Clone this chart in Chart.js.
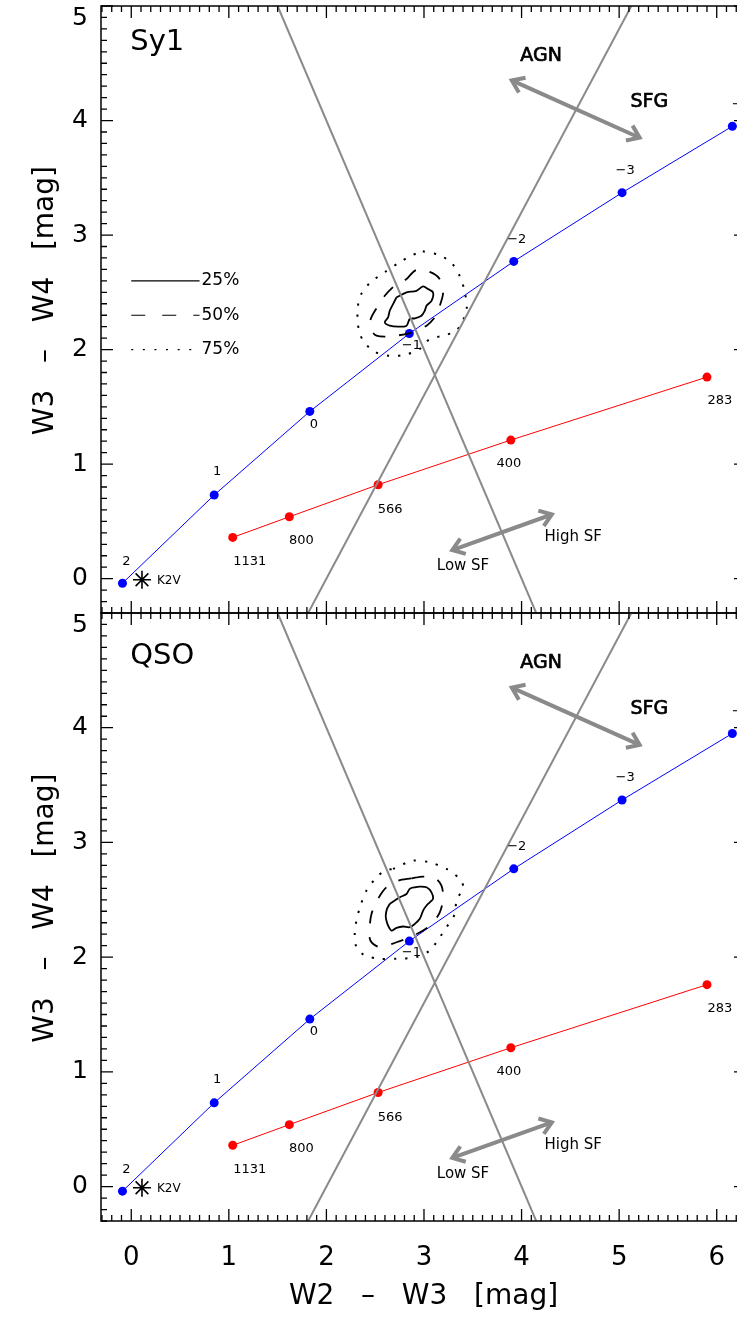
<!DOCTYPE html>
<html>
<head>
<meta charset="utf-8">
<script src="https://cdn.jsdelivr.net/npm/chart.js@4.4.0/dist/chart.umd.min.js"></script>
<style>
  html, body { margin: 0; padding: 0; background: #fff; }
  #wrap { position: relative; width: 737px; height: 1326px; overflow: hidden; background: #fff; }
  #wrap canvas { position: absolute; left: 0; }
</style>
</head>
<body>
<div id="wrap">
  <canvas id="sy1" width="760" height="640" style="top:0px"></canvas>
  <canvas id="qso" width="760" height="726" style="top:600px"></canvas>
</div>
<script>
// ---------- data ----------
// power-law track, labelled by spectral index alpha
const alphaLabels = ['2', '1', '0', '\u22121', '\u22122', '\u22123', '\u22124'];
const powerLawX = [-0.09, 0.85, 1.83, 2.85, 3.92, 5.03, 6.16];
const powerLawY = [-0.04, 0.73, 1.46, 2.14, 2.77, 3.37, 3.95];

// blackbody track, labelled by temperature [K]
const tempLabels = ['1131', '800', '566', '400', '283'];
const blackbodyX = [1.04, 1.62, 2.53, 3.89, 5.90];
const blackbodyY = [0.36, 0.54, 0.82, 1.21, 1.76];

// reference star
const starLabel = 'K2V';
const starX = [0.11];
const starY = [-0.01];

// AGN / SFG dividing lines (end points)
const lineAX = [1.50, 4.15];
const lineAY = [5.0, -0.3];
const lineBX = [1.8125, 5.125];
const lineBY = [-0.3, 5.0];

// double arrows (end points)
const agnArrowX = [3.90, 5.21];
const agnArrowY = [4.35, 3.85];
const sfArrowX = [3.29, 4.31];
const sfArrowY = [0.25, 0.56];

// axis ticks
const xTicks = [0, 1, 2, 3, 4, 5, 6];
const yTicks = [0, 1, 2, 3, 4, 5];

// contour levels
const contourLevels = ['25%', '50%', '75%'];

// Sy1 density contours
const sy1C25X = [2.718, 2.821, 2.923, 2.991, 3.042, 3.093, 3.077, 3.026, 3.008, 2.974, 2.906, 2.854, 2.821, 2.734, 2.649, 2.598, 2.632, 2.649, 2.683];
const sy1C25Y = [2.456, 2.499, 2.513, 2.551, 2.528, 2.499, 2.426, 2.383, 2.339, 2.296, 2.273, 2.267, 2.209, 2.200, 2.209, 2.238, 2.282, 2.339, 2.397];
const sy1C50X = [2.821, 2.923, 3.059, 3.162, 3.196, 3.162, 3.111, 3.026, 2.888, 2.667, 2.513, 2.451, 2.454, 2.519, 2.598, 2.718];
const sy1C50Y = [2.615, 2.696, 2.678, 2.615, 2.499, 2.383, 2.282, 2.209, 2.151, 2.117, 2.122, 2.180, 2.267, 2.369, 2.470, 2.571];
const sy1C75X = [2.988, 3.162, 3.285, 3.367, 3.418, 3.438, 3.397, 3.326, 3.193, 3.060, 2.957, 2.803, 2.649, 2.495, 2.403, 2.342, 2.321, 2.321, 2.362, 2.454, 2.598, 2.752, 2.875];
const sy1C75Y = [2.858, 2.823, 2.753, 2.641, 2.502, 2.354, 2.250, 2.163, 2.120, 2.093, 2.006, 1.954, 1.945, 1.980, 2.050, 2.137, 2.250, 2.372, 2.493, 2.589, 2.676, 2.763, 2.823];

// QSO density contours
const qsoC25X = [2.649, 2.752, 2.821, 2.854, 2.906, 2.957, 3.026, 3.077, 3.093, 3.059, 3.026, 2.991, 2.957, 2.906, 2.854, 2.786, 2.718, 2.667, 2.632, 2.615, 2.608, 2.621];
const qsoC25Y = [2.464, 2.522, 2.551, 2.595, 2.609, 2.615, 2.609, 2.565, 2.508, 2.478, 2.450, 2.406, 2.334, 2.290, 2.261, 2.267, 2.256, 2.232, 2.276, 2.319, 2.363, 2.421];
const qsoC50X = [2.872, 2.991, 3.111, 3.179, 3.196, 3.162, 3.093, 2.991, 2.854, 2.718, 2.547, 2.451, 2.444, 2.462, 2.529, 2.615, 2.734];
const qsoC50Y = [2.687, 2.702, 2.690, 2.623, 2.508, 2.391, 2.304, 2.232, 2.174, 2.130, 2.087, 2.145, 2.261, 2.377, 2.508, 2.609, 2.667];
const qsoC75X = [2.683, 2.888, 3.059, 3.231, 3.367, 3.401, 3.333, 3.316, 3.231, 3.162, 3.059, 2.923, 2.718, 2.547, 2.393, 2.308, 2.290, 2.308, 2.344, 2.410, 2.513, 2.598];
const qsoC75Y = [2.769, 2.841, 2.826, 2.769, 2.682, 2.609, 2.493, 2.377, 2.261, 2.174, 2.058, 2.000, 1.986, 1.986, 2.015, 2.087, 2.203, 2.319, 2.435, 2.580, 2.696, 2.754];

// ---------- style ----------
const FONT = '"DejaVu Sans", "Liberation Sans", sans-serif';
const GRAY = '#8a8a8a';
const X_MIN = -0.31, X_MAX = 6.30;
const Y_MIN = -0.3, Y_MAX = 5.0;
const DASH = [13, 14];
const DOT = [2.2, 9];

// label placement next to the track points (pixels)
const alphaLabelOffsets = [[4, -22], [3, -23], [4, 13], [2, 12], [3, -22], [3, -22], [9, -22]];
const tempLabelOffsets = [[17, 24], [12, 24], [12, 25], [-2, 24], [13, 24]];

const pts = (xs, ys) => xs.map((v, i) => ({ x: v, y: ys[i] }));
const closed = (xs, ys) => { const p = pts(xs, ys); p.push(p[0]); return p; };

function makeDatasets(c25x, c25y, c50x, c50y, c75x, c75y) {
  const gray = (d) => ({ data: d, showLine: true, borderColor: GRAY, borderWidth: 2, pointRadius: 0, clip: 0 });
  const contour = (d, dash, w) => ({ data: d, showLine: true, borderColor: '#000', borderWidth: w,
    borderDash: dash, pointRadius: 0, tension: 0.3, clip: 0 });
  return [
    gray(pts(lineAX, lineAY)),
    gray(pts(lineBX, lineBY)),
    contour(closed(c75x, c75y), DOT, 2),
    contour(closed(c50x, c50y), DASH, 1.8),
    contour(closed(c25x, c25y), [], 1.8),
    { data: pts(blackbodyX, blackbodyY), showLine: true, borderColor: '#ff0000', borderWidth: 1,
      pointRadius: 4.5, pointBackgroundColor: '#ff0000', pointBorderColor: '#ff0000', pointBorderWidth: 0 },
    { data: pts(powerLawX, powerLawY), showLine: true, borderColor: '#0000ff', borderWidth: 1,
      pointRadius: 4.5, pointBackgroundColor: '#0000ff', pointBorderColor: '#0000ff', pointBorderWidth: 0, clip: 10 },
    { data: pts(starX, starY), showLine: false, pointStyle: 'star', pointRadius: 9,
      pointBorderColor: '#000', pointBorderWidth: 1.6, pointBackgroundColor: '#000' }
  ];
}

function drawArrow(ctx, p1, p2) {
  const ang = Math.atan2(p2[1] - p1[1], p2[0] - p1[0]);
  const L = 14, spread = 0.62;
  ctx.save();
  ctx.strokeStyle = GRAY;
  ctx.lineWidth = 4;
  ctx.lineCap = 'butt';
  ctx.lineJoin = 'miter';
  ctx.beginPath();
  ctx.moveTo(p1[0], p1[1]);
  ctx.lineTo(p2[0], p2[1]);
  ctx.stroke();
  const head = (tip, dir) => {
    ctx.beginPath();
    ctx.moveTo(tip[0] - L * Math.cos(dir - spread), tip[1] - L * Math.sin(dir - spread));
    ctx.lineTo(tip[0], tip[1]);
    ctx.lineTo(tip[0] - L * Math.cos(dir + spread), tip[1] - L * Math.sin(dir + spread));
    ctx.stroke();
  };
  head(p2, ang);
  head(p1, ang + Math.PI);
  ctx.restore();
}

// heavy: extra outline width, for the slightly bolder region labels
function text(ctx, str, x, y, size, align, heavy) {
  ctx.font = `normal ${size}px ${FONT}`;
  ctx.fillStyle = '#000';
  ctx.textAlign = align || 'center';
  ctx.textBaseline = 'middle';
  ctx.fillText(str, x, y);
  if (heavy) {
    ctx.save();
    ctx.strokeStyle = '#000';
    ctx.lineWidth = heavy;
    ctx.strokeText(str, x, y);
    ctx.restore();
  }
}

const panelDecor = {
  id: 'panelDecor',
  afterDatasetsDraw(chart, args, opts) {
    const { ctx } = chart;
    const xs = chart.scales.x, ys = chart.scales.y;
    const P = (xv, yv) => [xs.getPixelForValue(xv), ys.getPixelForValue(yv)];

    drawArrow(ctx, P(agnArrowX[0], agnArrowY[0]), P(agnArrowX[1], agnArrowY[1]));
    drawArrow(ctx, P(sfArrowX[0], sfArrowY[0]), P(sfArrowX[1], sfArrowY[1]));

    let p = P(4.20, 4.56); text(ctx, 'AGN', p[0], p[1], 19, 'center', 0.7);
    p = P(5.31, 4.16); text(ctx, 'SFG', p[0], p[1], 19, 'center', 0.7);
    p = P(4.53, 0.36); text(ctx, 'High SF', p[0], p[1], 15);
    p = P(3.40, 0.11); text(ctx, 'Low SF', p[0], p[1], 15);

    alphaLabels.forEach((s, i) => {
      const q = P(powerLawX[i], powerLawY[i]);
      text(ctx, s, q[0] + alphaLabelOffsets[i][0], q[1] + alphaLabelOffsets[i][1], 13);
    });
    tempLabels.forEach((s, i) => {
      const q = P(blackbodyX[i], blackbodyY[i]);
      text(ctx, s, q[0] + tempLabelOffsets[i][0], q[1] + tempLabelOffsets[i][1], 13);
    });
    p = P(starX[0], starY[0]);
    text(ctx, starLabel, p[0] + 15, p[1] + 1, 12, 'left');

    p = P(0.0, opts.titleY);
    text(ctx, opts.title, p[0] - 1, p[1], 29, 'left');

    if (opts.legend) {
      const styles = [[], [14, 17], [2, 9.6]];
      const rows = [2.6, 2.3, 2.0];
      contourLevels.forEach((lab, i) => {
        const a = P(0.0, rows[i]), b = P(0.70, rows[i]);
        ctx.save();
        ctx.strokeStyle = '#000';
        ctx.lineWidth = 1.2;
        ctx.setLineDash(styles[i]);
        ctx.beginPath();
        ctx.moveTo(a[0], a[1]);
        ctx.lineTo(b[0], b[1]);
        ctx.stroke();
        ctx.restore();
        text(ctx, lab, b[0] + 2, a[1], 17, 'left');
      });
    }
  },
  afterDraw(chart) {
    const { ctx, chartArea: a } = chart;
    const xs = chart.scales.x, ys = chart.scales.y;
    ctx.save();
    ctx.strokeStyle = '#000';
    ctx.lineWidth = 1.5;
    ctx.strokeRect(a.left, a.top, a.right - a.left, a.bottom - a.top);
    ctx.lineWidth = 1.3;
    ctx.beginPath();
    for (let k = Math.ceil(X_MIN * 10); k <= Math.floor(X_MAX * 10); k++) {
      const x = xs.getPixelForValue(k / 10);
      const len = k % 10 === 0 ? 12 : 6;
      ctx.moveTo(x, a.bottom); ctx.lineTo(x, a.bottom - len);
      ctx.moveTo(x, a.top); ctx.lineTo(x, a.top + len);
    }
    for (let k = Math.ceil(Y_MIN * 10); k <= Math.floor(Y_MAX * 10); k++) {
      const y = ys.getPixelForValue(k / 10);
      const len = k % 10 === 0 ? 12 : 6;
      ctx.moveTo(a.left, y); ctx.lineTo(a.left + len, y);
      ctx.moveTo(a.right, y); ctx.lineTo(a.right - len, y);
    }
    ctx.stroke();
    ctx.restore();
  }
};

function makeChart(id, datasets, cfg) {
  const xTickFont = { family: FONT, size: 26, weight: 'normal' };
  const yTickFont = { family: FONT, size: 25, weight: 'normal', lineHeight: 1.0 };
  const titleFont = { family: FONT, size: 28, weight: 'normal' };
  const topY = yTicks[yTicks.length - 1];
  return new Chart(document.getElementById(id), {
    type: 'scatter',
    data: { datasets },
    plugins: [panelDecor],
    options: {
      responsive: false,
      animation: false,
      events: [],
      layout: { padding: cfg.padding, autoPadding: false },
      plugins: {
        legend: { display: false },
        tooltip: { enabled: false },
        panelDecor: { title: cfg.title, titleY: cfg.titleY, legend: cfg.legend }
      },
      scales: {
        x: {
          type: 'linear', min: X_MIN, max: X_MAX, display: cfg.showX,
          afterBuildTicks: (s) => { s.ticks = xTicks.map(v => ({ value: v })); },
          afterFit: (s) => { s.height = cfg.xHeight; s.paddingLeft = 0; s.paddingRight = 0; },
          grid: { display: false, drawTicks: false },
          border: { display: false },
          ticks: { padding: 22, color: '#000', font: xTickFont, maxRotation: 0, autoSkip: false,
                   callback: (v) => String(v) },
          title: { display: true, text: 'W2   \u2013   W3   [mag]', color: '#000', font: titleFont,
                   padding: { top: 0, bottom: 12 } }
        },
        y: {
          type: 'linear', min: Y_MIN, max: Y_MAX,
          afterBuildTicks: (s) => { s.ticks = yTicks.map(v => ({ value: v })); },
          afterFit: (s) => { s.width = 101; s.paddingTop = 0; s.paddingBottom = 0; },
          grid: { display: false, drawTicks: false },
          border: { display: false },
          // the top label sits just below the frame corner
          ticks: { padding: 13, color: '#000', font: yTickFont,
                   callback: (v) => (v === topY ? ['', String(v)] : String(v)) },
          title: { display: true, text: '  W3   \u2013   W4   [mag]', color: '#000', font: titleFont,
                   padding: { top: 29, bottom: 0 } }
        }
      }
    }
  });
}

makeChart('sy1', makeDatasets(sy1C25X, sy1C25Y, sy1C50X, sy1C50Y, sy1C75X, sy1C75Y),
  { padding: { top: 6, right: 14, bottom: 27, left: 0 }, showX: false, xHeight: 0,
    title: 'Sy1', titleY: 4.68, legend: true });

makeChart('qso', makeDatasets(qsoC25X, qsoC25Y, qsoC50X, qsoC50Y, qsoC75X, qsoC75Y),
  { padding: { top: 13, right: 14, bottom: 0, left: 0 }, showX: true, xHeight: 105,
    title: 'QSO', titleY: 4.62, legend: false });
</script>
</body>
</html>
